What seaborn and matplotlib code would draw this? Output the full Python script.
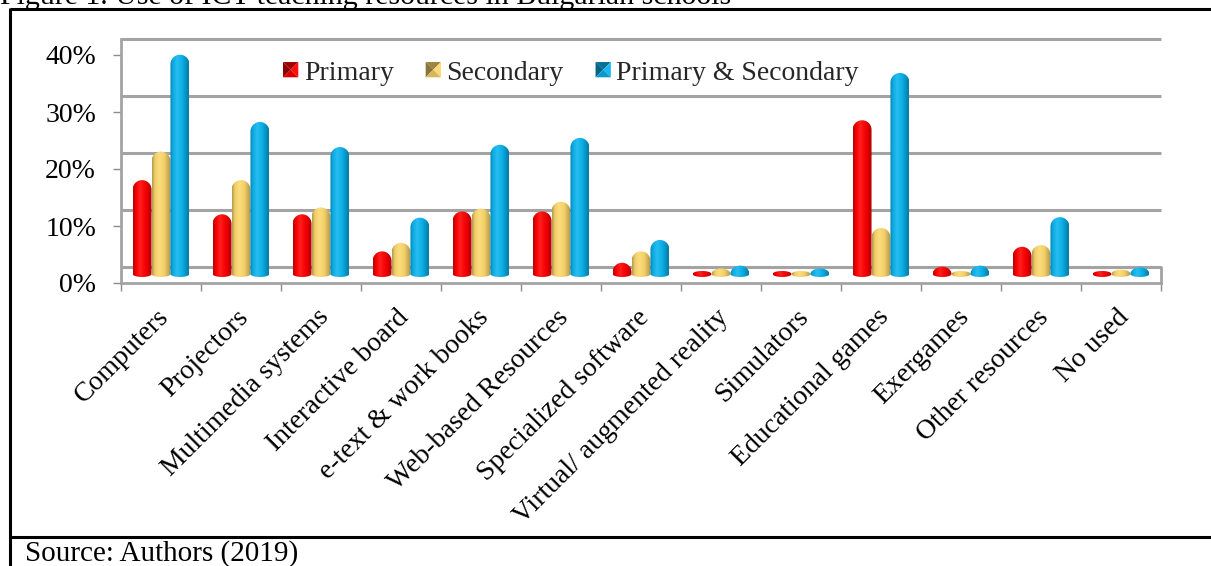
import numpy as np
import pandas as pd
import matplotlib
matplotlib.use("Agg")
import matplotlib.pyplot as plt
import matplotlib.colors as mcolors
from matplotlib.patches import Polygon, Patch
from matplotlib.lines import Line2D
from matplotlib.legend_handler import HandlerBase
from matplotlib.transforms import ScaledTranslation
import seaborn as sns

# ---------------- data ----------------
categories = ["Computers", "Projectors", "Multimedia systems", "Interactive board",
              "e-text & work books", "Web-based Resources", "Specialized software",
              "Virtual/ augmented reality", "Simulators", "Educational games",
              "Exergames", "Other resources", "No used"]
series_names = ["Primary", "Secondary", "Primary & Secondary"]
primary = [17, 11, 11, 4.5, 11.5, 11.5, 2.5, 0.8, 0.8, 27.5, 1.8, 5.3, 0.8]
secondary = [22, 17, 12.2, 6, 12, 13.2, 4.5, 1.5, 1.0, 8.6, 0.8, 5.6, 1.3]
primary_secondary = [39, 27.2, 22.8, 10.4, 23.2, 24.4, 6.5, 2.0, 1.5, 35.8, 2.0, 10.5, 1.7]
y_ticks = [0, 10, 20, 30, 40]
y_tick_labels = ["0%", "10%", "20%", "30%", "40%"]
title_text = "Figure 1. Use of ICT teaching resources in Bulgarian schools"
source_text = "Source: Authors (2019)"

palette = {"Primary": "#ff0000", "Secondary": "#fbd76c", "Primary & Secondary": "#0ab4ee"}

df = pd.DataFrame({
    "category": categories * 3,
    "series": np.repeat(series_names, len(categories)),
    "value": primary + secondary + primary_secondary,
})

# ---------------- figure ----------------
sns.set_theme(style="white")
plt.rcParams["font.family"] = ["Liberation Serif", "DejaVu Serif"]

W, H = 1211, 566
DPI = 100
FS = 20
fig = plt.figure(figsize=(W / DPI, H / DPI), dpi=DPI)
fig.patch.set_facecolor("white")

# axes: front axis 0% at y=283px, wall top at y=39px, x from 121 to 1161
ax_left, ax_right, ax_bottom, ax_top = 121, 1161, 283, 39
ax = fig.add_axes([ax_left / W, (H - ax_bottom) / H, (ax_right - ax_left) / W, (ax_bottom - ax_top) / H])
ax.set_facecolor("white")

sns.barplot(data=df, x="category", y="value", hue="series", order=categories,
            hue_order=series_names, palette=palette, width=0.71, errorbar=None,
            saturation=1, legend=False, ax=ax)

px_per_unit = 5.7
ax.set_xlim(-0.5, len(categories) - 0.5)
ax.set_ylim(0, (ax_bottom - ax_top) / px_per_unit)

BAR_LIFT = 6    # px: bars sit a bit behind the front axis
WALL_LIFT = 16  # px: back wall gridlines

wall_tr = ax.get_yaxis_transform() + ScaledTranslation(0, WALL_LIFT / DPI, fig.dpi_scale_trans)
for v in y_ticks:
    ax.plot([0, 1], [v, v], color="#a3a3a3", lw=2.2, transform=wall_tr, clip_on=False, zorder=0.5,
            solid_capstyle="butt")

# ------------- 3D-ish capsule bars ---------------
def shade(c, f):
    r, g, b = mcolors.to_rgb(c)
    if f < 1:
        return (r * f, g * f, b * f)
    return (r + (1 - r) * (f - 1), g + (1 - g) * (f - 1), b + (1 - b) * (f - 1))

fig.canvas.draw()
to_disp = ax.transData
to_data = ax.transData.inverted()

for name, cont in zip(series_names, ax.containers):
    base = palette[name]
    cmap = mcolors.LinearSegmentedColormap.from_list(
        "cyl", [(0.0, shade(base, 0.70)), (0.15, shade(base, 0.95)), (0.38, shade(base, 1.12)),
                (0.65, shade(base, 0.97)), (1.0, shade(base, 0.68))])
    grad = np.linspace(0, 1, 256)[None, :]
    for rect in cont.patches:
        rect.set_visible(False)
        x0, x1 = rect.get_x(), rect.get_x() + rect.get_width()
        h = rect.get_height()
        (dx0, dyb), = to_disp.transform([(x0, 0)])
        (dx1, dyt), = to_disp.transform([(x1, h)])
        dyb += BAR_LIFT
        dyt += BAR_LIFT
        rx = (dx1 - dx0) / 2
        cx = (dx0 + dx1) / 2
        hh = max(dyt - dyb, 6)
        dyt = dyb + hh
        rb = min(3.0, hh / 2)
        rt = min(rx, hh - rb)
        t1 = np.linspace(0, np.pi, 40)
        t2 = np.linspace(np.pi, 2 * np.pi, 40)
        top = np.column_stack([cx + rx * np.cos(t1), dyt - rt + rt * np.sin(t1)])
        bot = np.column_stack([cx + rx * np.cos(t2), dyb + rb + rb * np.sin(t2)])
        verts = to_data.transform(np.vstack([top, bot]))
        poly = Polygon(verts, closed=True, facecolor="none", edgecolor="none", zorder=2)
        ax.add_patch(poly)
        ymin, ymax = verts[:, 1].min(), verts[:, 1].max()
        im = ax.imshow(grad, cmap=cmap, extent=[x0, x1, ymin, ymax], aspect="auto",
                       interpolation="bilinear", zorder=2)
        im.set_clip_path(poly)

ax.set_xlim(-0.5, len(categories) - 0.5)
ax.set_ylim(0, (ax_bottom - ax_top) / px_per_unit)

# ---------------- axes styling ----------------
for s in ["top", "right"]:
    ax.spines[s].set_visible(False)
ax.spines["left"].set_color("#a3a3a3")
ax.spines["left"].set_linewidth(2)
ax.spines["bottom"].set_color("#a3a3a3")
ax.spines["bottom"].set_linewidth(2)
ax.add_line(Line2D([1, 1], [0, WALL_LIFT / (ax_bottom - ax_top)], transform=ax.transAxes,
                   color="#a3a3a3", lw=2, clip_on=False))

ax.set_yticks(y_ticks)
ax.set_yticklabels(y_tick_labels)
ax.tick_params(axis="y", length=6, width=1, color="#8c8c8c", pad=12, labelsize=FS, labelcolor="black", left=True)

ax.set_xticks(range(len(categories)))
ax.set_xticklabels(categories, rotation=45, ha="right", va="center", rotation_mode="anchor")
ax.set_xticks(np.arange(-0.5, len(categories), 1.0), minor=True)
ax.tick_params(axis="x", which="major", length=0, pad=22, labelsize=FS, labelcolor="black")
ax.tick_params(axis="x", which="minor", length=6, width=1, color="#8c8c8c", bottom=True)
ax.set_xlabel("")
ax.set_ylabel("")
off = ScaledTranslation(4 / DPI, 0, fig.dpi_scale_trans)
for lbl in ax.get_xticklabels():
    lbl.set_transform(lbl.get_transform() + off)

# ---------------- legend ----------------
class BevelHandler(HandlerBase):
    def create_artists(self, legend, orig_handle, xdescent, ydescent, width, height, fontsize, trans):
        c = orig_handle.get_facecolor()
        s = min(width, height)
        x0 = -xdescent + (width - s) / 2
        y0 = -ydescent + (height - s) / 2
        cxy = (x0 + s / 2, y0 + s / 2)
        bl, br, tr, tl = (x0, y0), (x0 + s, y0), (x0 + s, y0 + s), (x0, y0 + s)
        faces = [([tl, tr, cxy], 0.62), ([tl, bl, cxy], 0.55), ([tr, br, cxy], 1.05), ([bl, br, cxy], 0.85)]
        arts = []
        for pts, f in faces:
            p = Polygon(pts, closed=True, facecolor=shade(c, f), edgecolor="none", transform=trans)
            arts.append(p)
        return arts

handles = [Patch(facecolor=palette[n], label=n) for n in series_names]
leg = ax.legend(handles=handles, labels=series_names, handler_map={Patch: BevelHandler()},
                loc="center left", bbox_to_anchor=((283 - ax_left) / (ax_right - ax_left), (ax_bottom - 73) / (ax_bottom - ax_top)),
                ncol=3, frameon=False, fontsize=FS, handlelength=0.55, handleheight=0.55,
                handletextpad=0.2, columnspacing=1.15, borderpad=0, borderaxespad=0)

# ---------------- frame, title, source ----------------
def px_line(x0, y0, x1, y1, lw=2.2):
    fig.add_artist(Line2D([x0 / W, x1 / W], [1 - y0 / H, 1 - y1 / H], transform=fig.transFigure,
                          color="black", lw=lw, solid_capstyle="butt"))

px_line(10, 9, W, 9)
px_line(10, 537, W, 537)
px_line(10, 8, 10, H)

fig.text(0 / W, 1 - 4 / H, title_text, fontsize=21.5, va="baseline", ha="left", color="black")
fig.text(25 / W, 1 - 561 / H, source_text, fontsize=21, va="baseline", ha="left", color="black")

fig.savefig("out.png", dpi=DPI, facecolor="white")
